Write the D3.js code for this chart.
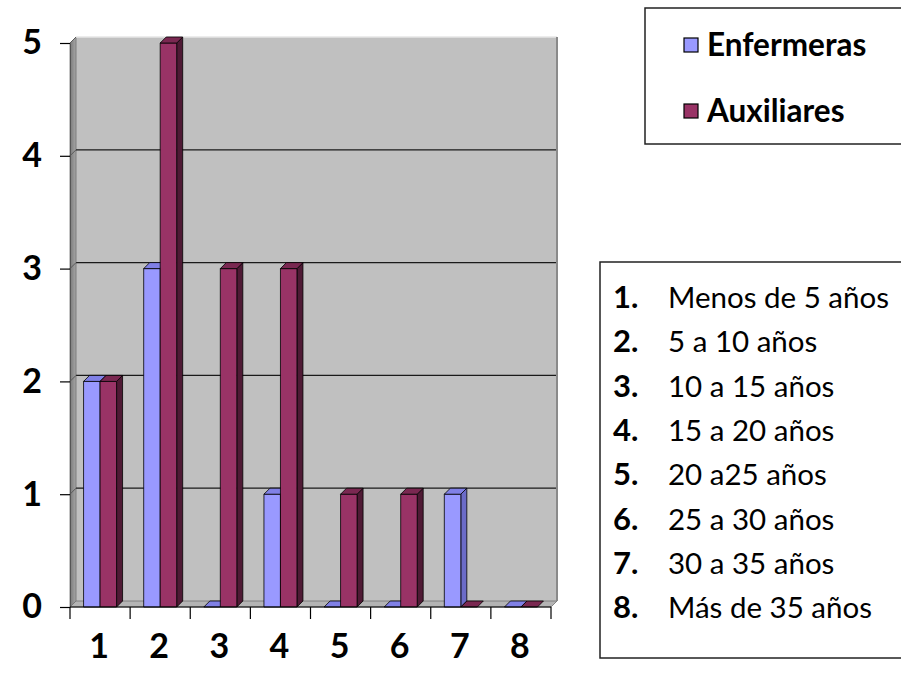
<!DOCTYPE html>
<html>
<head>
<meta charset="utf-8">
<script src="https://cdn.jsdelivr.net/npm/d3@7"></script>
<style>
  html, body { margin: 0; padding: 0; background: #fff; }
  svg { display: block; }
  text { font-family: Lato, "Open Sans", sans-serif; fill: #000; }
</style>
</head>
<body>
<svg id="chart" width="901" height="685"></svg>
<script>
// Años de servicio por grupo (personal de enfermería)
const categories = ["1", "2", "3", "4", "5", "6", "7", "8"];
const seriesNames = ["Enfermeras", "Auxiliares"];
const enfermeras = [2, 3, 0, 1, 0, 0, 1, 0];
const auxiliares = [2, 5, 3, 3, 1, 1, 0, 0];
const yTicks = [0, 1, 2, 3, 4, 5];
const rangeLabels = [
  "Menos de 5 años", "5 a 10 años", "10 a 15 años", "15 a 20 años",
  "20 a25 años", "25 a 30 años", "30 a 35 años", "Más de 35 años"
];

const colors = {
  Enfermeras: { front: "#9999ff", top: "#8080e6", side: "#6b6bc8" },
  Auxiliares: { front: "#993366", top: "#7a2851", side: "#4f1a35" }
};

const svg = d3.select("#chart");

// plot frame (front plane) and 3-D depth offset
const plotLeft = 70, plotRight = 551, plotTop = 43, plotBottom = 607;
const dx = 6, dy = -6;

const x = d3.scaleBand().domain(categories).range([plotLeft, plotRight]);
const inner = d3.scaleBand().domain(seriesNames).range([0, 33]);
const y = d3.scaleLinear().domain([0, 5]).range([plotBottom, plotTop]);
const groupOffset = (x.bandwidth() - 33) / 2;

// ---- walls ----
const walls = svg.append("g");
walls.append("rect")
  .attr("x", plotLeft + dx).attr("y", y(5) + dy)
  .attr("width", plotRight - plotLeft).attr("height", y(0) - y(5))
  .attr("fill", "#c0c0c0");

const grad = svg.append("defs").append("linearGradient").attr("id", "sideWall")
  .attr("x1", 0).attr("x2", 1).attr("y1", 0).attr("y2", 0);
grad.append("stop").attr("offset", 0).attr("stop-color", "#7a7a7a");
grad.append("stop").attr("offset", 1).attr("stop-color", "#a6a6a6");

walls.append("polygon")
  .attr("points", [[plotLeft, y(5)], [plotLeft + dx, y(5) + dy], [plotLeft + dx, y(0) + dy], [plotLeft, y(0)]].join(" "))
  .attr("fill", "url(#sideWall)").attr("stroke", "#707070").attr("stroke-width", 0.8);

walls.append("polygon")
  .attr("points", [[plotLeft, y(0)], [plotLeft + dx, y(0) + dy], [plotRight + dx, y(0) + dy], [plotRight, y(0)]].join(" "))
  .attr("fill", "#b4b4b4").attr("stroke", "#707070").attr("stroke-width", 0.8);

// gridlines on back wall and left wall
const grid = svg.append("g");
yTicks.filter(v => v > 0).forEach(v => {
  grid.append("line")
    .attr("x1", plotLeft + dx).attr("x2", plotRight + dx)
    .attr("y1", y(v) + dy).attr("y2", y(v) + dy)
    .attr("stroke", v === 5 ? "#e6e6e6" : "#1a1a1a").attr("stroke-width", v === 5 ? 1.5 : 1.2);
  grid.append("line")
    .attr("x1", plotLeft).attr("x2", plotLeft + dx)
    .attr("y1", y(v)).attr("y2", y(v) + dy)
    .attr("stroke", "#5a5a5a").attr("stroke-width", 1);
});
// right edge of back wall
grid.append("line")
  .attr("x1", plotRight + dx).attr("x2", plotRight + dx)
  .attr("y1", y(5) + dy).attr("y2", y(0) + dy)
  .attr("stroke", "#8a8a8a").attr("stroke-width", 2);

// ---- bars ----
const rows = categories.map((c, i) => ({ cat: c, values: [
  { name: "Enfermeras", value: enfermeras[i] },
  { name: "Auxiliares", value: auxiliares[i] }
]}));

const barG = svg.append("g");
const w = inner.bandwidth();
rows.forEach(r => {
  r.values.forEach(d => {
    const x0 = x(r.cat) + groupOffset + inner(d.name);
    const yv = y(d.value), y0 = y(0);
    const c = colors[d.name];
    const g = barG.append("g").attr("stroke", "#000").attr("stroke-width", 0.8).attr("stroke-linejoin", "round");
    if (d.value > 0) {
      g.append("polygon")
        .attr("points", [[x0 + w, yv], [x0 + w + dx, yv + dy], [x0 + w + dx, y0 + dy], [x0 + w, y0]].join(" "))
        .attr("fill", c.side);
      g.append("rect")
        .attr("x", x0).attr("y", yv).attr("width", w).attr("height", y0 - yv)
        .attr("fill", c.front);
    }
    g.append("polygon")
      .attr("points", [[x0, yv], [x0 + dx, yv + dy], [x0 + w + dx, yv + dy], [x0 + w, yv]].join(" "))
      .attr("fill", c.top);
  });
});

// ---- axes ----
const axisFont = sel => sel
  .style("font-family", "Lato, sans-serif").style("font-weight", "bold")
  .style("font-size", "34px").attr("fill", "#000");

const yAxis = svg.append("g")
  .attr("transform", `translate(${plotLeft},0)`)
  .call(d3.axisLeft(y).tickValues(yTicks).tickFormat(d3.format("d")).tickSize(10).tickSizeOuter(0).tickPadding(18));
yAxis.select(".domain").attr("stroke", "#555");
yAxis.selectAll(".tick line").attr("stroke", "#000").attr("stroke-width", 1.2);
yAxis.selectAll(".tick text").call(axisFont);

// baseline and category separator ticks
const xAxisG = svg.append("g");
xAxisG.append("line")
  .attr("x1", plotLeft).attr("x2", plotRight).attr("y1", y(0)).attr("y2", y(0))
  .attr("stroke", "#000").attr("stroke-width", 1);
const bounds = categories.map(c => x(c)).concat([x.range()[1]]);
xAxisG.selectAll("line.sep").data(bounds).join("line").attr("class", "sep")
  .attr("x1", d => d).attr("x2", d => d)
  .attr("y1", y(0)).attr("y2", y(0) + 12)
  .attr("stroke", "#000").attr("stroke-width", 1.2);

const xAxis = svg.append("g")
  .attr("transform", `translate(0,${y(0)})`)
  .call(d3.axisBottom(x).tickSize(0).tickPadding(27));
xAxis.select(".domain").remove();
xAxis.selectAll(".tick text").call(axisFont).attr("dx", "-1");

// ---- series legend ----
const leg = svg.append("g");
leg.append("rect").attr("x", 645).attr("y", 8).attr("width", 270).attr("height", 136)
  .attr("fill", "#fff").attr("stroke", "#222").attr("stroke-width", 1.5);
seriesNames.forEach((n, i) => {
  const gy = 38 + i * 66;
  leg.append("rect").attr("x", 684).attr("y", gy).attr("width", 14).attr("height", 14)
    .attr("fill", colors[n].front).attr("stroke", "#000").attr("stroke-width", 1.2);
  leg.append("text").attr("x", 707).attr("y", gy + 18)
    .style("font-weight", "bold").style("font-size", "31.5px").text(n);
});

// ---- category key ----
const key = svg.append("g");
key.append("rect").attr("x", 600).attr("y", 262).attr("width", 320).attr("height", 396)
  .attr("fill", "#fff").attr("stroke", "#222").attr("stroke-width", 1.5);
rangeLabels.forEach((t, i) => {
  const by = 308 + i * 44.3;
  key.append("text").attr("x", 613).attr("y", by)
    .style("font-weight", "bold").style("font-size", "31px").text(categories[i] + ".");
  key.append("text").attr("x", 668).attr("y", by)
    .style("font-size", "29.5px").text(t);
});
</script>
</body>
</html>
